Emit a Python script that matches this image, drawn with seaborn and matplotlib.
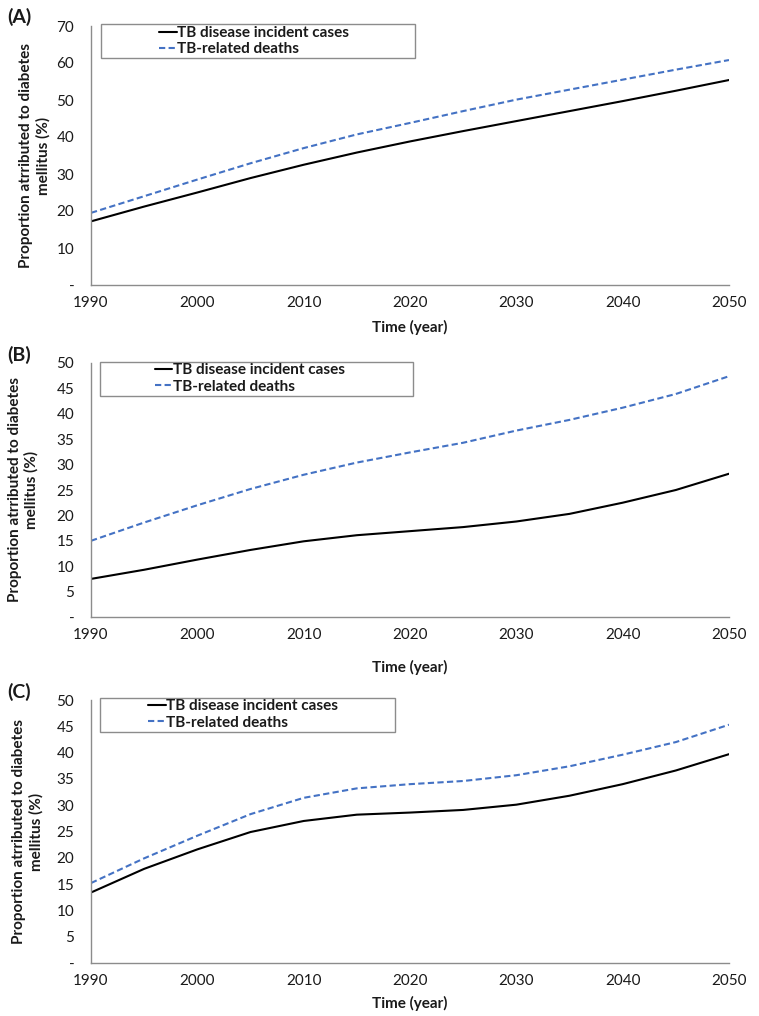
import numpy as np
import pandas as pd
import matplotlib
matplotlib.use("Agg")
import matplotlib.pyplot as plt
from matplotlib.patches import Rectangle
import seaborn as sns

sns.set_theme(style="white")
plt.rcParams['font.family'] = ['Lato', 'DejaVu Sans']

# ---------------- data ----------------
years = [1990, 1995, 2000, 2005, 2010, 2015, 2020, 2025, 2030, 2035, 2040, 2045, 2050]

a_incident = [17.2, 21.2, 25.0, 28.9, 32.5, 35.8, 38.8, 41.6, 44.3, 47.0, 49.7, 52.5, 55.4]
a_deaths = [19.5, 24.0, 28.5, 32.9, 37.0, 40.7, 43.8, 47.0, 50.1, 52.8, 55.5, 58.2, 60.8]

b_incident = [7.5, 9.3, 11.3, 13.2, 14.9, 16.1, 16.9, 17.7, 18.8, 20.3, 22.5, 25.0, 28.2]
b_deaths = [15.0, 18.6, 22.0, 25.2, 28.0, 30.4, 32.4, 34.3, 36.7, 38.8, 41.2, 43.9, 47.4]

c_incident = [13.4, 17.9, 21.6, 24.9, 27.0, 28.2, 28.6, 29.1, 30.1, 31.8, 34.0, 36.6, 39.7]
c_deaths = [15.2, 19.9, 24.2, 28.3, 31.4, 33.2, 34.0, 34.6, 35.7, 37.4, 39.6, 42.0, 45.3]

series_names = ["TB disease incident cases", "TB-related deaths"]
panel_labels = ["(A)", "(B)", "(C)"]
xticks = [1990, 2000, 2010, 2020, 2030, 2040, 2050]
a_yticks = [0, 10, 20, 30, 40, 50, 60, 70]
bc_yticks = [0, 5, 10, 15, 20, 25, 30, 35, 40, 45, 50]
a_yticklabels = ["-"] + [str(v) for v in a_yticks[1:]]
bc_yticklabels = ["-"] + [str(v) for v in bc_yticks[1:]]
ylabel = "Proportion atrributed to diabetes\nmellitus (%)"
xlabel = "Time (year)"

# ---------------- layout ----------------
W, H = 759, 1016
fig = plt.figure(figsize=(W / 100, H / 100), dpi=100)

def ax_rect(left, right, top, bottom):
    return [left / W, 1 - bottom / H, (right - left) / W, (bottom - top) / H]

panels = [
    dict(rect=ax_rect(91, 729, 26, 285), inc=a_incident, dth=a_deaths, ylim=70,
         yt=a_yticks, ytl=a_yticklabels, lab=panel_labels[0], lab_y=17,
         box=(0.0157, 0.876, 0.4925, 0.132), leg=(0.1066, 0.941), ylab_x=-0.064,
         xlab_y=327),
    dict(rect=ax_rect(91, 729, 363, 617), inc=b_incident, dth=b_deaths, ylim=50,
         yt=bc_yticks, ytl=bc_yticklabels, lab=panel_labels[1], lab_y=355,
         box=(0.014, 0.870, 0.491, 0.134), leg=(0.100, 0.939), ylab_x=-0.0815,
         xlab_y=667),
    dict(rect=ax_rect(91, 729, 700, 963), inc=c_incident, dth=c_deaths, ylim=50,
         yt=bc_yticks, ytl=bc_yticklabels, lab=panel_labels[2], lab_y=692,
         box=(0.014, 0.878, 0.462, 0.1296), leg=(0.0893, 0.945), ylab_x=-0.075,
         xlab_y=1003),
]

spine_col = "#8c8c8c"
text_col = "#1a1a1a"

for p in panels:
    ax = fig.add_axes(p["rect"])
    df = pd.DataFrame({"year": years * 2,
                       "value": list(p["inc"]) + list(p["dth"]),
                       "series": [series_names[0]] * len(years) + [series_names[1]] * len(years)})
    sns.lineplot(data=df[df.series == series_names[0]], x="year", y="value",
                 color="black", linewidth=1.5, ax=ax, label=series_names[0])
    sns.lineplot(data=df[df.series == series_names[1]], x="year", y="value",
                 color="#4472C4", linewidth=1.5, ax=ax, label=series_names[1],
                 dashes=False)
    ax.lines[1].set_linestyle((0, (3, 1.6)))

    ax.set_xlim(1990, 2050)
    ax.set_ylim(0, p["ylim"])
    ax.set_xticks(xticks)
    ax.set_xticklabels([str(x) for x in xticks], fontsize=11, color=text_col)
    ax.set_yticks(p["yt"])
    ax.set_yticklabels(p["ytl"], fontsize=11, color=text_col)
    ax.tick_params(axis="both", direction="in", length=4, width=0.8, color=spine_col)
    ax.tick_params(axis="x", pad=8)
    ax.tick_params(axis="y", pad=12)
    for s in ["top", "right"]:
        ax.spines[s].set_visible(False)
    for s in ["left", "bottom"]:
        ax.spines[s].set_color(spine_col)
        ax.spines[s].set_linewidth(1.0)

    ax.set_ylabel(ylabel, fontsize=11, fontweight="bold", color=text_col,
                  linespacing=1.2)
    ax.yaxis.set_label_coords(p["ylab_x"], 0.5)
    ax.set_xlabel("")
    fig.text(410 / W, 1 - p["xlab_y"] / H, xlabel, ha="center", va="center",
             fontsize=11, fontweight="bold", color=text_col)

    # legend frame (Excel-style wide box) and entries
    bx, by, bw, bh = p["box"]
    ax.add_patch(Rectangle((bx, by), bw, bh, transform=ax.transAxes, fill=True,
                           facecolor="white", edgecolor="#8c8c8c", linewidth=1.0,
                           clip_on=False, zorder=4))
    leg = ax.legend(loc="center left", bbox_to_anchor=p["leg"], frameon=False,
                    borderpad=0, borderaxespad=0, handlelength=1.15,
                    handletextpad=0.05, labelspacing=0.15,
                    prop={"size": 11, "weight": "bold"})
    leg.set_zorder(5)
    for t in leg.get_texts():
        t.set_color(text_col)

    fig.text(7 / W, 1 - p["lab_y"] / H, p["lab"], ha="left", va="center",
             fontsize=14, fontweight="bold", color=text_col)

fig.savefig("out.png", dpi=100)
